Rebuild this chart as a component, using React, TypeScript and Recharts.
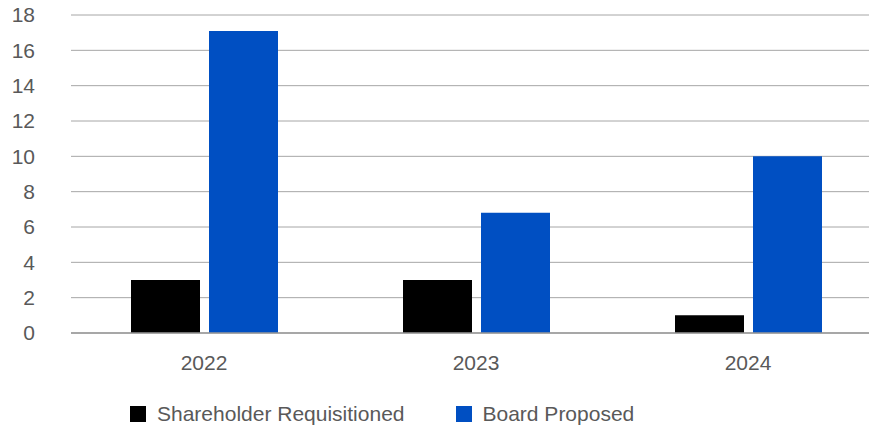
import React from "react";
import {
  BarChart,
  Bar,
  XAxis,
  YAxis,
  CartesianGrid,
  Legend,
} from "recharts";

const years = ["2022", "2023", "2024"];
const shareholderRequisitioned = [3, 3, 1];
const boardProposed = [17.1, 6.8, 10];
const yTicks = [0, 2, 4, 6, 8, 10, 12, 14, 16, 18];

const SERIES = [
  { key: "shareholder", name: "Shareholder Requisitioned", color: "#000000" },
  { key: "board", name: "Board Proposed", color: "#004FC2" },
];

const FONT = "'Liberation Sans', Arial, sans-serif";
const TEXT_COLOR = "#595959";

const data = years.map((year, i) => ({
  year,
  shareholder: shareholderRequisitioned[i],
  board: boardProposed[i],
}));

// legend drawn as plain html row, left-aligned under the first group
const LegendRow = () => (
  <div
    style={{
      display: "flex",
      alignItems: "center",
      height: 30,
      fontFamily: FONT,
      fontSize: 21,
      color: TEXT_COLOR,
    }}
  >
    {SERIES.map((s, i) => (
      <div
        key={s.key}
        style={{
          display: "flex",
          alignItems: "center",
          marginRight: i === 0 ? 51 : 0,
        }}
      >
        <span
          style={{
            display: "inline-block",
            width: 16,
            height: 16,
            background: s.color,
            marginRight: 11,
          }}
        />
        <span>{s.name}</span>
      </div>
    ))}
  </div>
);

export default function App() {
  // the original plot runs a bit past the right edge, so the chart is wider and clipped
  return (
    <div style={{ width: 869, height: 425, overflow: "hidden" }}>
      <style>{`body{margin:0}`}</style>
      <BarChart
        width={884}
        height={425}
        data={data}
        margin={{ top: 15, right: 0, left: 0, bottom: 0 }}
        barSize={69}
        barGap={9}
      >
        <CartesianGrid vertical={false} stroke="#a6a6a6" />
        <XAxis
          dataKey="year"
          height={62}
          padding={{ left: -3, right: 0 }}
          tickLine={false}
          tickSize={0}
          tickMargin={22}
          axisLine={{ stroke: "#999999", strokeWidth: 1.5 }}
          tick={{ fill: TEXT_COLOR, fontSize: 21, fontFamily: FONT }}
        />
        <YAxis
          width={71}
          domain={[0, 18]}
          ticks={yTicks}
          tickLine={false}
          axisLine={false}
          tickSize={0}
          tickMargin={36}
          tick={{ fill: TEXT_COLOR, fontSize: 21, fontFamily: FONT }}
        />
        <Legend
          verticalAlign="bottom"
          content={<LegendRow />}
          wrapperStyle={{ left: 130, width: "auto", top: 399 }}
        />
        {SERIES.map((s) => (
          <Bar
            key={s.key}
            dataKey={s.key}
            name={s.name}
            fill={s.color}
            isAnimationActive={false}
          />
        ))}
      </BarChart>
    </div>
  );
}
